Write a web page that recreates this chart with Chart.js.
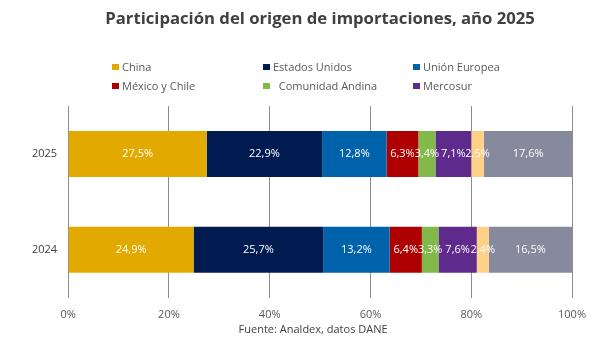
<!DOCTYPE html>
<html>
<head>
<meta charset="utf-8">
<script src="https://cdn.jsdelivr.net/npm/chart.js@4"></script>
<style>
  html, body { margin: 0; padding: 0; background: #fff; }
  #wrap { position: relative; width: 615px; height: 349px; }
  #legend {
    position: absolute; left: 112px; top: 57px;
    display: grid; grid-template-columns: 151px 150px 150px; grid-auto-rows: 19px;
    font: 11px 'Open Sans', sans-serif; color: #595959;
  }
  #legend .item { display: flex; align-items: center; white-space: pre; }
  #legend .box { width: 7px; height: 6px; margin-right: 3px; }
</style>
</head>
<body>
<div id="wrap">
  <canvas id="chart" width="615" height="349"></canvas>
  <div id="legend"></div>
</div>
<script>
// datos (participación %)
const years = ['2025', '2024'];
const china = [27.5, 24.9];
const estadosUnidos = [22.9, 25.7];
const unionEuropea = [12.8, 13.2];
const mexicoChile = [6.3, 6.4];
const comunidadAndina = [3.4, 3.3];
const mercosur = [7.1, 7.6];
const otros = [2.5, 2.4];
const resto = [17.6, 16.5];
const xTicks = [0, 20, 40, 60, 80, 100];

const series = [
    { label: 'China', data: china, color: '#E2AA00', legend: true },
    { label: 'Estados Unidos', data: estadosUnidos, color: '#001B50', legend: true },
    { label: 'Unión Europea', data: unionEuropea, color: '#0062AA', legend: true },
    { label: 'México y Chile', data: mexicoChile, color: '#AE0000', legend: true },
    { label: '  Comunidad Andina', data: comunidadAndina, color: '#82B94A', legend: true },
    { label: 'Mercosur', data: mercosur, color: '#5E2A8C', legend: true },
    { label: 'Otros', data: otros, color: '#FFD088', legend: false },
    { label: 'Resto', data: resto, color: '#868A9C', legend: false },
];

Chart.defaults.font.family = "'Open Sans', sans-serif";
Chart.defaults.font.size = 11;

const fmt = v => v.toFixed(1).replace('.', ',') + '%';

// etiquetas blancas dentro de cada barra
const barLabels = {
    id: 'barLabels',
    afterDatasetsDraw(chart) {
        const ctx = chart.ctx;
        ctx.save();
        ctx.font = "11px 'Open Sans', sans-serif";
        ctx.fillStyle = '#ffffff';
        ctx.textAlign = 'center';
        ctx.textBaseline = 'middle';
        chart.data.datasets.forEach((ds, i) => {
            chart.getDatasetMeta(i).data.forEach((bar, j) => {
                const p = bar.getCenterPoint();
                ctx.fillText(fmt(ds.data[j]), p.x, p.y);
            });
        });
        ctx.restore();
    }
};

// fuente debajo del eje
const sourceNote = {
    id: 'sourceNote',
    afterDraw(chart) {
        const ctx = chart.ctx;
        const a = chart.chartArea;
        ctx.save();
        ctx.font = "11px 'Open Sans', sans-serif";
        ctx.fillStyle = '#404040';
        ctx.textAlign = 'center';
        ctx.textBaseline = 'middle';
        ctx.fillText('Fuente: Analdex, datos DANE', (a.left + a.right) / 2 - 7, a.bottom + 32);
        ctx.restore();
    }
};

const chart = new Chart(document.getElementById('chart'), {
    type: 'bar',
    data: {
        labels: years,
        datasets: series.map(s => ({
            label: s.label,
            data: s.data,
            backgroundColor: s.color,
            borderWidth: 0,
            categoryPercentage: 0.8,
            barPercentage: 0.6,
        }))
    },
    options: {
        indexAxis: 'y',
        responsive: false,
        animation: false,
        layout: { padding: { left: 21, right: 43, top: 0, bottom: 18 } },
        plugins: {
            legend: { display: false },
            tooltip: { enabled: false },
            title: {
                display: true,
                fullSize: false,
                text: 'Participación del origen de importaciones, año 2025',
                color: '#404040',
                font: { size: 16.7, weight: 'bold' },
                padding: { top: 9, bottom: 77 }
            }
        },
        scales: {
            x: {
                stacked: true,
                min: 0,
                max: 100,
                afterBuildTicks: axis => { axis.ticks = xTicks.map(v => ({ value: v })); },
                ticks: { color: '#595959', padding: 10, callback: v => v + '%' },
                grid: { color: '#8c8c8c', drawTicks: false },
                border: { display: false }
            },
            y: {
                stacked: true,
                ticks: { color: '#404040', padding: 11 },
                grid: { display: false, drawTicks: false },
                border: { color: '#8c8c8c' }
            }
        }
    },
    plugins: [barLabels, sourceNote]
});

// leyenda en tres columnas
const legendEl = document.getElementById('legend');
series.filter(s => s.legend).forEach(s => {
    const item = document.createElement('div');
    item.className = 'item';
    const box = document.createElement('span');
    box.className = 'box';
    box.style.background = s.color;
    item.appendChild(box);
    item.appendChild(document.createTextNode(s.label));
    legendEl.appendChild(item);
});
</script>
</body>
</html>
